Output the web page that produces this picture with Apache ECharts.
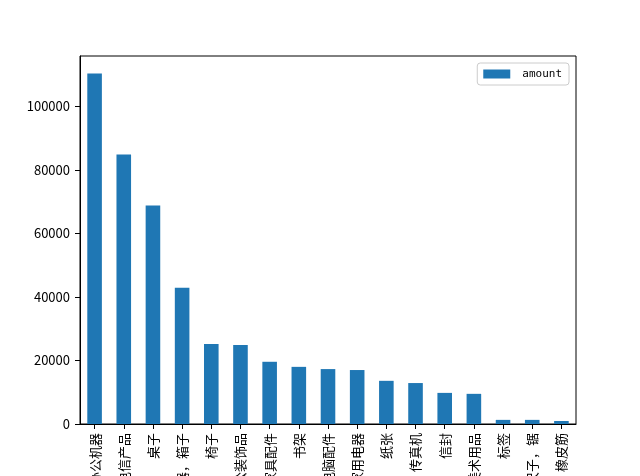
<!DOCTYPE html>
<html>
<head>
<meta charset="utf-8">
<script src="https://cdn.jsdelivr.net/npm/echarts@6/dist/echarts.min.js"></script>
<style>html,body{margin:0;padding:0;background:#fff}#c{width:640px;height:476px}</style>
</head>
<body>
<div id="c"></div>
<script>
const categories = ["办公机器","电信产品","桌子","容器，箱子","椅子","办公装饰品","家具配件","书架","电脑配件","家用电器","纸张","复印机、传真机","信封","美术用品","标签","剪刀，尺子，锯","橡皮筋"];
const amount = [110400, 84900, 68800, 42900, 25200, 24900, 19600, 18000, 17300, 17000, 13600, 12900, 9800, 9500, 1300, 1300, 950];
const yTicks = [0, 20000, 40000, 60000, 80000, 100000];
const seriesName = "amount";

const chart = echarts.init(document.getElementById('c'), null, {renderer: 'canvas'});
const yMax = Math.max(...amount) * 1.05;
chart.setOption({
  animation: false,
  backgroundColor: '#ffffff',
  grid: {left: 80, right: 64, top: 56, bottom: 52, show: true, borderColor: '#000', borderWidth: 1, backgroundColor: 'transparent', containLabel: false, outerBoundsMode: 'none'},
  legend: {
    show: true,
    data: [seriesName],
    right: 71, top: 63,
    orient: 'vertical',
    itemWidth: 27, itemHeight: 9,
    padding: [4, 7, 4, 6],
    borderColor: '#cccccc', borderWidth: 1, borderRadius: 3,
    backgroundColor: 'rgba(255,255,255,0.8)',
    icon: 'rect',
    textStyle: {fontFamily: 'DejaVu Sans Mono', fontSize: 11, color: '#000', padding: [0, 0, 0, 7], lineHeight: 14}
  },
  xAxis: {
    type: 'category',
    data: categories,
    axisLine: {show: true, lineStyle: {color: '#000', width: 1}},
    axisTick: {show: true, alignWithLabel: true, length: 5, lineStyle: {color: '#000'}},
    axisLabel: {rotate: 90, margin: 9, fontFamily: 'Noto Sans CJK SC', fontSize: 13, color: '#000', interval: 0, hideOverlap: false},
    splitLine: {show: false}
  },
  yAxis: {
    type: 'value',
    min: 0, max: yMax,
    axisLine: {show: true, lineStyle: {color: '#000', width: 1}},
    axisTick: {show: true, length: 5, lineStyle: {color: '#000'}, customValues: yTicks},
    axisLabel: {margin: 10, fontFamily: 'Noto Sans CJK SC', fontSize: 13, color: '#000', customValues: yTicks, formatter: v => String(v)},
    splitLine: {show: false}
  },
  series: [{
    name: seriesName,
    type: 'bar',
    data: amount,
    barWidth: '50%',
    itemStyle: {color: '#1f77b4'}
  }]
});
</script>
</body>
</html>
